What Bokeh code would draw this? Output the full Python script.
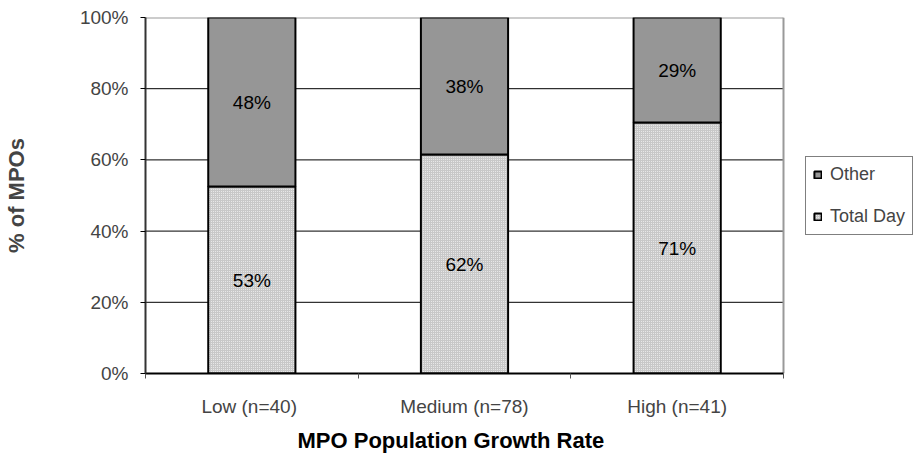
from bokeh.plotting import figure
from bokeh.models import ColumnDataSource, FixedTicker, Legend, LegendItem, LabelSet, Range1d, Title
from bokeh.core.properties import value
from bokeh.embed import file_html
from bokeh.resources import INLINE

categories = ["Low  (n=40)", "Medium (n=78)", "High (n=41)"]
total_day = [52.5, 61.5, 70.5]
other = [47.5, 38.5, 29.5]
total_labels = ["53%", "62%", "71%"]
other_labels = ["48%", "38%", "29%"]
y_ticks = [0, 20, 40, 60, 80, 100]

n = len(categories)
x = [i + 0.5 for i in range(n)]
src = ColumnDataSource(dict(
    x=x, total=total_day,
    other_top=[t + o for t, o in zip(total_day, other)],
    total_mid=[t / 2 for t in total_day],
    other_mid=[t + o / 2 for t, o in zip(total_day, other)],
    total_lab=total_labels, other_lab=other_labels,
))

FONT = "Liberation Sans"

# frame extends right to hold the legend; plot area is x in [0, n]
PLOT_W = 638
FRAME_W = 768
p = figure(output_backend="svg", toolbar_location=None,
           x_range=Range1d(0, n * FRAME_W / PLOT_W), y_range=Range1d(0, y_ticks[-1]),
           frame_width=FRAME_W, frame_height=356,
           min_border_left=145, min_border_right=0, min_border_top=17, min_border_bottom=82)
p.outline_line_color = None
p.background_fill_color = "white"
p.xgrid.visible = False
p.ygrid.visible = False

# grid lines within plot area
grid_vals = y_ticks[1:-1]
p.segment(x0=[0] * len(grid_vals), x1=[n] * len(grid_vals), y0=grid_vals, y1=grid_vals,
          line_color="black", line_width=1)
# plot area border (top and right)
p.segment(x0=[0, n], x1=[n, n], y0=[y_ticks[-1], 0], y1=[y_ticks[-1], y_ticks[-1]],
          line_color="#999999", line_width=2)

r1 = p.vbar(x="x", top="total", bottom=0, width=0.41, source=src,
            fill_color="#c8c8c8", line_color="black", line_width=2,
            hatch_pattern="dot", hatch_color="#f2f2f2", hatch_scale=2, hatch_weight=1)
r2 = p.vbar(x="x", top="other_top", bottom="total", width=0.41, source=src,
            fill_color="#969696", line_color="black", line_width=2)

for col, ycol in (("total_lab", "total_mid"), ("other_lab", "other_mid")):
    p.add_layout(LabelSet(x="x", y=ycol, text=col, source=src, text_align="center",
                          text_baseline="middle", text_font=value(FONT),
                          text_font_size=value("19px"), text_color="black"))

# axes
p.xaxis.bounds = (0, n)
p.xaxis.ticker = FixedTicker(ticks=x, minor_ticks=list(range(n + 1)))
p.xaxis.major_label_overrides = {xv: c for xv, c in zip(x, categories)}
p.xaxis.major_tick_line_color = None
p.xaxis.major_tick_out = 5
p.xaxis.minor_tick_out = 5
p.xaxis.minor_tick_in = 0
p.xaxis.minor_tick_line_color = "#555555"
p.xaxis.axis_line_color = "black"
p.xaxis.axis_line_width = 2
p.xaxis.major_label_text_font = FONT
p.xaxis.major_label_text_font_size = "19px"
p.xaxis.major_label_standoff = 17

x_title = Title(text="MPO Population Growth Rate", align="left", offset=152,
                text_font=FONT, text_font_style="bold", text_font_size="22px",
                text_color="black", standoff=13)
p.add_layout(x_title, "below")

p.yaxis.ticker = FixedTicker(ticks=y_ticks, minor_ticks=[])
p.yaxis.major_label_overrides = {v: f"{v}%" for v in y_ticks}
p.yaxis.major_tick_out = 5
p.yaxis.major_tick_in = 0
p.yaxis.axis_line_color = "#333333"
p.yaxis.axis_line_width = 2
p.yaxis.major_label_text_font = FONT
p.yaxis.major_label_text_font_size = "19px"
p.yaxis.major_label_standoff = 12
p.yaxis.axis_label = "% of MPOs"
p.yaxis.axis_label_text_font = FONT
p.yaxis.axis_label_text_font_style = "bold"
p.yaxis.axis_label_text_font_size = "22px"
p.yaxis.axis_label_standoff = 48

legend = Legend(items=[LegendItem(label="Other", renderers=[r2]),
                       LegendItem(label="Total Day", renderers=[r1])],
                location=(660, 138), border_line_color="black", border_line_width=1,
                background_fill_color="white", label_text_font=FONT,
                label_text_font_size="18px", glyph_width=9, glyph_height=9,
                label_height=20, spacing=21, padding=7, margin=0, label_standoff=8)
p.add_layout(legend, "center")

open("out.html", "w").write(file_html(p, INLINE))
